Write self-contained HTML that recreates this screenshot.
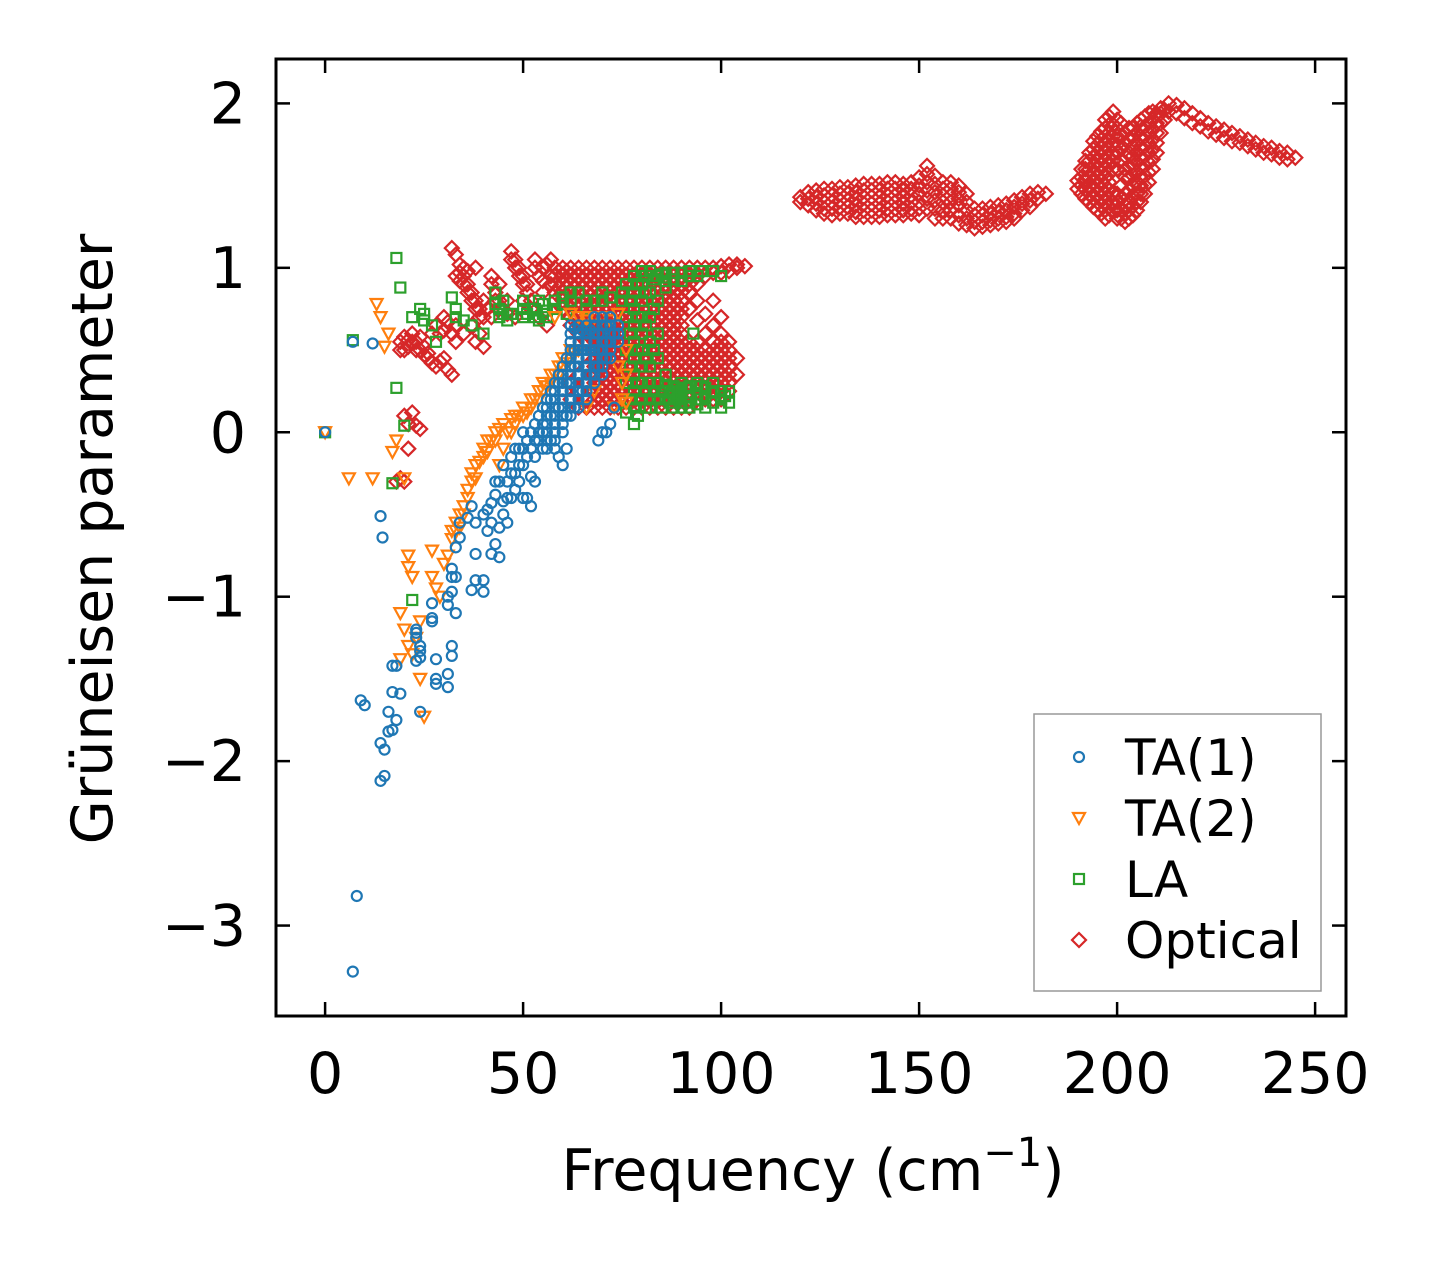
<!DOCTYPE html>
<html><head><meta charset="utf-8"><style>
html,body{margin:0;padding:0;background:#fff;}
svg{display:block;font-family:"DejaVu Sans","Liberation Sans",sans-serif;}
</style></head><body>
<svg id="chart" width="1434" height="1264" viewBox="0 0 1434 1264" xmlns="http://www.w3.org/2000/svg">
<rect x="0" y="0" width="1434" height="1264" fill="#fff"/>
<g id="marks"></g>
<g id="axes"></g>
</svg>
<script>
// Data: columns of [frequency, [gamma values...]]
const xTicks = [0, 50, 100, 150, 200, 250];
const yTicks = [2, 1, 0, -1, -2, -3];
const ta1 = [
 [0,[0]],[7,[0.55,-3.28]],[8,[-2.82]],[12,[0.54]],[9,[-1.63]],[10,[-1.66]],[14,[-2.12,-1.89,-0.51]],[14.5,[-0.64]],[15,[-2.09,-1.93]],
 [16,[-1.82,-1.7]],[17,[-1.81,-1.58,-1.42]],[18,[-1.75,-1.42]],[19,[-1.59]],[23,[-1.2,-1.25,-1.39,-1.22]],[24,[-1.3,-1.37,-1.7,-1.33]],
 [27,[-1.15,-1.04,-1.13]],[28,[-1.38,-1.5,-1.53]],[31,[-1.55,-1.47,-1.05,-1.0]],[32,[-1.3,-1.36,-0.97,-0.83,-0.88]],[33,[-1.1,-0.88,-0.7]],
 [34,[-0.64,-0.55]],[36,[-0.52]],[37,[-0.96,-0.45]],[38,[-0.9,-0.55,-0.74]],[40,[-0.97,-0.9,-0.5]],[41,[-0.47,-0.6]],[42,[-0.74,-0.43,-0.55]],
 [43,[-0.68,-0.38,-0.3]],[44,[-0.76,-0.3,-0.58]],[45,[-0.5,-0.2,-0.42]],[46,[-0.55,-0.4,-0.3]],[47,[-0.4,-0.15,-0.25]],[48,[-0.35,-0.25,-0.1]],[49,[-0.3,-0.1,-0.2]],
 [50,[-0.2,-0.1,-0.4,0.0]],[51,[-0.4,-0.05,-0.15]],[52,[-0.45,-0.27,0.0,-0.1]],[53,[-0.15,0.05,-0.3,-0.05]],[54,[-0.05,0.1,0.0]],[55,[0.0,0.15,-0.1,0.05]],
 [56,[-0.1,-0.05,0.0,0.05,0.1,0.15,0.2]],[57,[0.2,0.1,-0.05,0.25]],[58,[-0.1,-0.05,0.0,0.05,0.1,0.15,0.2,0.25,0.3]],[59,[-0.15,0.3,0.15,0.35]],
 [60,[-0.2,0.0,0.05,0.1,0.15,0.2,0.25,0.3,0.35,0.4]],[61,[0.1,0.3,-0.1,0.45]],
 [62,[0.1,0.15,0.2,0.25,0.3,0.35,0.4,0.45,0.5,0.55,0.6,0.65]],[63,[0.63,0.5,0.15,0.4]],
 [64,[0.15,0.2,0.25,0.3,0.35,0.4,0.45,0.5,0.55,0.6,0.65]],[65,[0.62,0.25,0.5]],
 [66,[0.2,0.25,0.3,0.35,0.4,0.45,0.5,0.55,0.6,0.65]],[67,[0.62,0.35,0.5]],
 [68,[0.3,0.35,0.4,0.45,0.5,0.55,0.6,0.65,0.7]],[69,[0.6,0.5,-0.05,0.4]],
 [70,[0.35,0.4,0.45,0.5,0.55,0.6,0.65,0.7,0.0]],[71,[0.65,0.45,0.55,0.0]],
 [72,[0.45,0.5,0.55,0.6,0.65,0.7,0.05]],[73,[0.15,0.6]],[74,[0.55,0.6,0.65]]
];
const ta2 = [
 [0,[0]],[6,[-0.28]],[12,[-0.28]],[13,[0.78]],[14,[0.7]],[15,[0.52]],[16,[0.6]],[17,[-0.12]],[18,[-0.05]],[20,[-0.28,-1.2]],
 [21,[-0.75,-0.82,-1.3]],[22,[-0.88,-1.35]],[19,[-1.1,-1.38]],[23,[-1.25]],[24,[-1.5,-1.15]],[25,[-1.73]],[27,[-0.72,-0.88]],[28,[-0.95]],[29,[-1.0]],
 [30,[-0.8]],[31,[-0.75]],[32,[-0.65,-0.6]],[33,[-0.6,-0.55]],[34,[-0.5,-0.58]],[35,[-0.45,-0.5]],[36,[-0.35,-0.4]],[37,[-0.25,-0.3]],[38,[-0.2,-0.28]],[39,[-0.18]],[40,[-0.15,-0.1]],
 [41,[-0.05,-0.12]],[42,[-0.05]],[43,[0.0,-0.05]],[44,[-0.2,0.02]],[45,[-0.1,0.05]],[46,[0.0]],[47,[0.0,0.08]],[48,[0.05,0.1]],[49,[0.1]],[50,[0.1,0.15]],[51,[0.12]],[52,[0.15,0.2]],
 [53,[0.2]],[54,[0.2,0.25]],[55,[0.25,0.3]],[56,[0.28]],[57,[0.3,0.35]],[58,[0.7,0.35]],[59,[0.35,0.4]],[60,[0.4,0.45]],[61,[0.42]],[62,[0.45,0.72,0.5]],[63,[0.48]],[64,[0.5,0.7]],
 [66,[0.68,0.15,0.7]],[68,[0.25,0.7]],[70,[0.7]],[72,[0.68]],[73,[0.15]],[74,[0.72,0.4]],[75,[0.3,0.2]],[76,[0.5,0.18,0.35]]
];
const la = [
 [0,[0]],[7,[0.56]],[17,[-0.31]],[18,[1.06,0.27]],[19,[0.88]],[20,[0.04]],[22,[-1.02,0.7]],[24,[0.75]],[25,[0.68,0.72]],[27,[0.65]],[28,[0.55]],
 [32,[0.82]],[33,[0.7,0.75]],[35,[0.68]],[37,[0.65]],[40,[0.6]],[43,[0.85,0.78]],[44,[0.75,0.7]],[45,[0.8,0.72]],[46,[0.68,0.72]],[47,[0.72]],
 [50,[0.7,0.75,0.8]],[51,[0.72]],[53,[0.75,0.7]],[54,[0.68,0.8]],[55,[0.78,0.72]],[56,[0.7,0.74]],[58,[0.8,0.75]],[60,[0.82,0.78]],[61,[0.72]],[62,[0.85,0.8]],
 [64,[0.85]],[66,[0.75,0.8]],[68,[0.8]],[70,[0.85,0.8]],[72,[0.82]],[75,[0.8,0.85]],
 [76,[0.12,0.3,0.5,0.7,0.9]],[77,[0.2,0.4,0.6,0.8]],[78,[0.95,0.05,0.15,0.25,0.35,0.45,0.55,0.65,0.75,0.85]],[79,[0.1,0.3,0.5,0.7,0.9]],
 [80,[0.2,0.3,0.4,0.5,0.6,0.7,0.8,0.9,0.98]],[81,[0.15,0.25,0.45,0.65,0.85,0.95]],
 [82,[0.15,0.2,0.3,0.4,0.55,0.7,0.85,0.98]],[83,[0.25,0.5,0.75,0.93]],[84,[0.2,0.3,0.45,0.6,0.8,0.95]],[85,[0.15,0.25,0.96]],
 [86,[0.2,0.28,0.35,0.88,0.97,0.92]],[87,[0.18,0.25]],[88,[0.15,0.22,0.28,0.97,0.93]],[89,[0.2,0.27]],[90,[0.15,0.2,0.25,0.3,0.97,0.92]],
 [91,[0.18,0.27]],[92,[0.15,0.22,0.28,0.95,0.98]],[93,[0.6]],[94,[0.17,0.23,0.3,0.95]],[95,[0.2,0.28,0.98]],[96,[0.15,0.22,0.27]],
 [98,[0.18,0.25,0.3,0.98]],[100,[0.15,0.2,0.25,0.95]],[101,[0.22]],[102,[0.18,0.25]]
];
const optical = [
 [18,[-0.3]],[19,[0.55,-0.28,0.5]],[20,[0.5,0.1,-0.3,0.58]],[21,[0.56,0.05,-0.1,0.52]],[22,[0.6,0.12,0.55]],[23,[0.55,0.04,0.5]],[24,[0.5,0.02,0.58]],[25,[0.47,0.52]],
 [26,[0.45,0.48]],[27,[0.42,0.6]],[28,[0.4,0.65]],[29,[0.43,0.6]],[30,[0.45,0.62,0.7]],[31,[0.38,0.67]],[32,[1.12,0.35,0.6]],[33,[1.08,0.55,0.95,0.65]],
 [34,[1.02,0.92,0.97]],[35,[0.95,0.6,1.0,0.9]],[36,[0.9,0.98,0.85]],[37,[0.85,0.65,0.8]],[38,[0.8,1.0,0.55,0.75]],[39,[0.75,0.6,0.7]],[40,[0.7,0.52,0.8]],[41,[0.75]],[42,[0.95,0.7,0.9]],
 [43,[0.85,0.8]],[44,[0.9,0.75,0.8]],[45,[0.75]],[46,[0.72,0.8]],[47,[1.1,1.05]],[48,[1.05,0.7,1.0]],[49,[1.0,0.95]],[50,[0.95,0.8,0.9]],[51,[0.9,0.85]],[52,[0.75,0.8]],[53,[1.05,1.0]],[54,[0.7,0.95]],
 [55,[1.0,0.92,0.85]],[56,[0.65,1.02]],[57,[1.05,0.95,0.9]],[58,[1.0,0.95,0.9,0.85,0.8]],[59,[0.98,0.88]],
 [60,[1.0,0.95,0.9,0.85,0.8,0.75]],[61,[0.98,0.92]],
 [62,[1.0,0.95,0.9,0.85,0.8,0.75,0.7,0.65,0.3,0.2]],
 [64,[1.0,0.95,0.9,0.85,0.8,0.75,0.7,0.65,0.6,0.35,0.25,0.15]],
 [66,[1.0,0.95,0.9,0.85,0.8,0.75,0.7,0.65,0.6,0.55,0.4,0.3,0.2,0.15]],
 [68,[1.0,0.95,0.9,0.85,0.8,0.75,0.7,0.65,0.6,0.55,0.5,0.45,0.4,0.35,0.3,0.25,0.2,0.15]],
 [70,[1.0,0.95,0.9,0.85,0.8,0.75,0.7,0.65,0.6,0.55,0.5,0.45,0.4,0.35,0.3,0.25,0.2,0.15]],
 [72,[1.0,0.95,0.9,0.85,0.8,0.75,0.7,0.65,0.6,0.55,0.5,0.45,0.4,0.35,0.3,0.25,0.2,0.15]],
 [74,[1.0,0.95,0.9,0.85,0.8,0.75,0.7,0.65,0.6,0.55,0.5,0.45,0.4,0.35,0.3,0.25,0.2,0.15]],
 [76,[1.0,0.95,0.9,0.85,0.8,0.75,0.7,0.65,0.6,0.55,0.5,0.45,0.4,0.35,0.3,0.25,0.2,0.15]],
 [78,[1.0,0.95,0.9,0.85,0.8,0.75,0.7,0.65,0.6,0.55,0.5,0.45,0.4,0.35,0.3,0.25,0.2,0.15]],
 [80,[1.0,0.95,0.9,0.85,0.8,0.75,0.7,0.65,0.6,0.55,0.5,0.45,0.4,0.35,0.3,0.25,0.2,0.15]],
 [82,[1.0,0.95,0.9,0.85,0.8,0.75,0.7,0.65,0.6,0.55,0.5,0.45,0.4,0.35,0.3,0.25,0.2,0.15]],
 [84,[1.0,0.95,0.9,0.85,0.8,0.75,0.7,0.65,0.6,0.55,0.5,0.45,0.4,0.35,0.3,0.25,0.2,0.15]],
 [86,[1.0,0.95,0.9,0.85,0.8,0.75,0.7,0.65,0.6,0.55,0.5,0.45,0.4,0.35,0.3,0.25,0.2,0.15]],
 [88,[1.0,0.95,0.9,0.85,0.8,0.75,0.7,0.65,0.6,0.55,0.5,0.45,0.4,0.35,0.3,0.25,0.2,0.15]],
 [90,[1.0,0.95,0.9,0.85,0.8,0.75,0.7,0.65,0.6,0.55,0.5,0.45,0.4,0.35,0.3,0.25,0.2,0.15]],
 [92,[1.0,0.95,0.9,0.85,0.75,0.55,0.5,0.45,0.4,0.35,0.3,0.25,0.2,0.15]],
 [94,[1.0,0.95,0.9,0.8,0.68,0.55,0.5,0.45,0.4,0.35,0.3,0.25,0.2]],
 [96,[1.0,0.95,0.72,0.6,0.5,0.45,0.4,0.35,0.3,0.25,0.2]],
 [98,[1.0,0.97,0.8,0.65,0.55,0.5,0.45,0.4,0.35,0.3,0.25,0.2]],
 [100,[1.01,0.97,0.7,0.6,0.55,0.5,0.45,0.4,0.35,0.3,0.25,0.2]],
 [102,[1.02,0.98,0.55,0.5,0.45,0.4,0.35,0.3,0.25]],[104,[1.02,1.0,0.45,0.35]],[106,[1.01]],
 [120,[1.43,1.4]],[122,[1.46,1.42,1.38]],[124,[1.47,1.43,1.39,1.35]],[126,[1.48,1.44,1.4,1.36,1.33]],[128,[1.48,1.44,1.4,1.36,1.32]],
 [130,[1.49,1.45,1.41,1.37,1.33]],[132,[1.49,1.45,1.41,1.37,1.33]],[134,[1.5,1.46,1.42,1.38,1.34,1.31]],[136,[1.51,1.47,1.43,1.39,1.35,1.31]],
 [138,[1.51,1.47,1.43,1.39,1.35,1.31]],[140,[1.51,1.47,1.43,1.39,1.35,1.31]],[142,[1.52,1.48,1.44,1.4,1.36,1.32]],
 [144,[1.52,1.48,1.44,1.4,1.36,1.32]],[146,[1.51,1.47,1.43,1.39,1.35,1.32]],[148,[1.52,1.48,1.44,1.4,1.36,1.33]],
 [150,[1.55,1.5,1.45,1.4,1.36,1.32]],[152,[1.62,1.57,1.52,1.47,1.42,1.36]],[154,[1.56,1.51,1.46,1.41,1.36,1.3]],
 [156,[1.52,1.48,1.44,1.4,1.35,1.3]],[158,[1.52,1.48,1.44,1.4,1.35,1.3]],[160,[1.5,1.46,1.42,1.38,1.32,1.27]],
 [162,[1.45,1.4,1.35,1.3,1.26]],[164,[1.36,1.32,1.28,1.24]],[166,[1.36,1.32,1.28,1.25]],[168,[1.37,1.33,1.29,1.26]],
 [170,[1.38,1.34,1.3,1.27]],[172,[1.39,1.35,1.31,1.28]],[174,[1.41,1.37,1.33,1.3]],[176,[1.43,1.39,1.35]],
 [178,[1.45,1.41,1.37]],[180,[1.46,1.42]],[182,[1.45]],
 [190,[1.48,1.53]],[191,[1.45,1.5,1.55,1.6]],[192,[1.42,1.48,1.54,1.6,1.65]],[193,[1.4,1.45,1.5,1.55,1.6,1.65,1.7]],
 [194,[1.37,1.42,1.47,1.52,1.57,1.62,1.67,1.72,1.77]],[195,[1.35,1.4,1.45,1.5,1.55,1.6,1.65,1.7,1.75,1.8]],
 [196,[1.33,1.38,1.43,1.48,1.53,1.58,1.63,1.68,1.73,1.78,1.83]],[197,[1.3,1.35,1.4,1.45,1.5,1.55,1.6,1.65,1.7,1.75,1.8,1.85,1.9]],
 [198,[1.32,1.37,1.42,1.47,1.52,1.57,1.62,1.67,1.72,1.77,1.82,1.87,1.92]],[199,[1.35,1.4,1.45,1.6,1.65,1.7,1.75,1.8,1.87,1.95]],
 [200,[1.3,1.35,1.4,1.45,1.6,1.7,1.75,1.8,1.85,1.9]],[201,[1.3,1.35,1.42,1.5,1.65,1.72,1.8,1.88]],
 [202,[1.28,1.33,1.38,1.45,1.55,1.6,1.68,1.75,1.82]],[203,[1.3,1.35,1.4,1.47,1.55,1.62,1.7,1.78,1.85]],
 [204,[1.32,1.38,1.44,1.5,1.56,1.62,1.68,1.74,1.8,1.85]],[205,[1.35,1.4,1.45,1.52,1.58,1.64,1.7,1.76,1.82,1.88]],
 [206,[1.4,1.45,1.5,1.56,1.62,1.68,1.74,1.8,1.86,1.9]],[207,[1.45,1.5,1.56,1.62,1.68,1.74,1.8,1.86,1.92]],
 [208,[1.52,1.58,1.64,1.7,1.76,1.82,1.88,1.94]],[209,[1.6,1.66,1.72,1.78,1.84,1.9,1.95]],[210,[1.7,1.76,1.82,1.88,1.94]],
 [211,[1.82,1.88,1.94,1.97]],[212,[1.9,1.96]],[213,[1.95,2.0]],
 [215,[1.99,1.94]],[217,[1.97,1.91]],[219,[1.94,1.88]],[221,[1.91,1.86]],[223,[1.88,1.83]],[225,[1.86,1.81]],[227,[1.84,1.79]],[229,[1.82,1.77]],[231,[1.8,1.76]],
 [233,[1.78,1.74]],[235,[1.76,1.72]],[237,[1.74,1.7]],[239,[1.73,1.69]],[241,[1.71,1.67]],[243,[1.7,1.66]],[245,[1.67]]
];
const xMin=-12.4, xMax=257.8, yMin=-3.55, yMax=2.27;
const L=276, R=1346, T=59, B=1016;
function sx(v){return L+(v-xMin)/(xMax-xMin)*(R-L);}
function sy(v){return B-(v-yMin)/(yMax-yMin)*(B-T);}
const NS="http://www.w3.org/2000/svg";
const marks=document.getElementById('marks');
const axes=document.getElementById('axes');
function mk(tag,attrs,parent){const e=document.createElementNS(NS,tag);for(const k in attrs)e.setAttribute(k,attrs[k]);parent.appendChild(e);return e;}
function shape(kind,cx,cy,color,parent){
  let e;
  if(kind==='circle'){e=mk('circle',{cx:cx,cy:cy,r:5,fill:'none',stroke:color,'stroke-width':2.2},parent);}
  else if(kind==='tri'){e=mk('path',{d:`M${cx-6},${cy-5} L${cx+6},${cy-5} L${cx},${cy+6} Z`,fill:'none',stroke:color,'stroke-width':2.2},parent);}
  else if(kind==='sq'){e=mk('rect',{x:cx-5,y:cy-5,width:10,height:10,fill:'none',stroke:color,'stroke-width':2.2},parent);}
  else {e=mk('path',{d:`M${cx},${cy-7} L${cx+7},${cy} L${cx},${cy+7} L${cx-7},${cy} Z`,fill:'none',stroke:color,'stroke-width':2.2},parent);}
  return e;
}
const series=[
  {data:optical,kind:'dia',color:'#d62728',name:'optical-point'},
  {data:la,kind:'sq',color:'#2ca02c',name:'la-point'},
  {data:ta2,kind:'tri',color:'#ff7f0e',name:'ta2-point'},
  {data:ta1,kind:'circle',color:'#1f77b4',name:'ta1-point'}
];
series.forEach(s=>{
  const g=mk('g',{},marks);
  
  
  s.data.forEach(col=>{
    col[1].forEach(v=>{
      const e=shape(s.kind,sx(col[0]),sy(v),s.color,g);
      
      
    });
  });
});
const frame=mk('rect',{x:L,y:T,width:R-L,height:B-T,fill:'none',stroke:'#000','stroke-width':3},axes);


xTicks.forEach(t=>{
  const x=sx(t);
  const a=mk('line',{x1:x,y1:B,x2:x,y2:B-14,stroke:'#000','stroke-width':2.5},axes);
  
  
  const b=mk('line',{x1:x,y1:T,x2:x,y2:T+14,stroke:'#000','stroke-width':2.5},axes);
  
  
  const tx=mk('text',{x:x,y:1093,'font-size':57,'text-anchor':'middle',fill:'#000'},axes);
  tx.textContent=String(t);
  
  
});
yTicks.forEach((t,i)=>{
  const y=sy(t);
  const a=mk('line',{x1:L,y1:y,x2:L+14,y2:y,stroke:'#000','stroke-width':2.5},axes);
  
  
  const b=mk('line',{x1:R,y1:y,x2:R-14,y2:y,stroke:'#000','stroke-width':2.5},axes);
  
  
  const tx=mk('text',{x:246,y:y+20,'font-size':57,'text-anchor':'end',fill:'#000'},axes);
  tx.textContent=t<0?'\u2212'+Math.abs(t):String(t);
  
  
});
const xt=mk('text',{x:813,y:1190,'font-size':57,'text-anchor':'middle',fill:'#000'},axes);
xt.innerHTML='Frequency (cm<tspan dy="-24" font-size="40">\u22121</tspan><tspan dy="24">)</tspan>';


const yt=mk('text',{x:0,y:0,'font-size':57,'text-anchor':'middle',fill:'#000',transform:'translate(112,539) rotate(-90)'},axes);
yt.textContent='Grüneisen parameter';


const lg=mk('g',{},axes);


mk('rect',{x:1034,y:714,width:287,height:277,fill:'#fff',stroke:'#999','stroke-width':1.5},lg);
const legendLabels=['TA(1)','TA(2)','LA','Optical'];
const legendKinds=[['circle','#1f77b4'],['tri','#ff7f0e'],['sq','#2ca02c'],['dia','#d62728']];
legendLabels.forEach((lab,i)=>{
  const y=757+i*61;
  const eg=mk('g',{},lg);
  
  
  shape(legendKinds[i][0],1079,y,legendKinds[i][1],eg);
  const t=mk('text',{x:1125,y:y+18,'font-size':50,fill:'#000'},eg);
  t.textContent=lab;
});
</script>
</body></html>
